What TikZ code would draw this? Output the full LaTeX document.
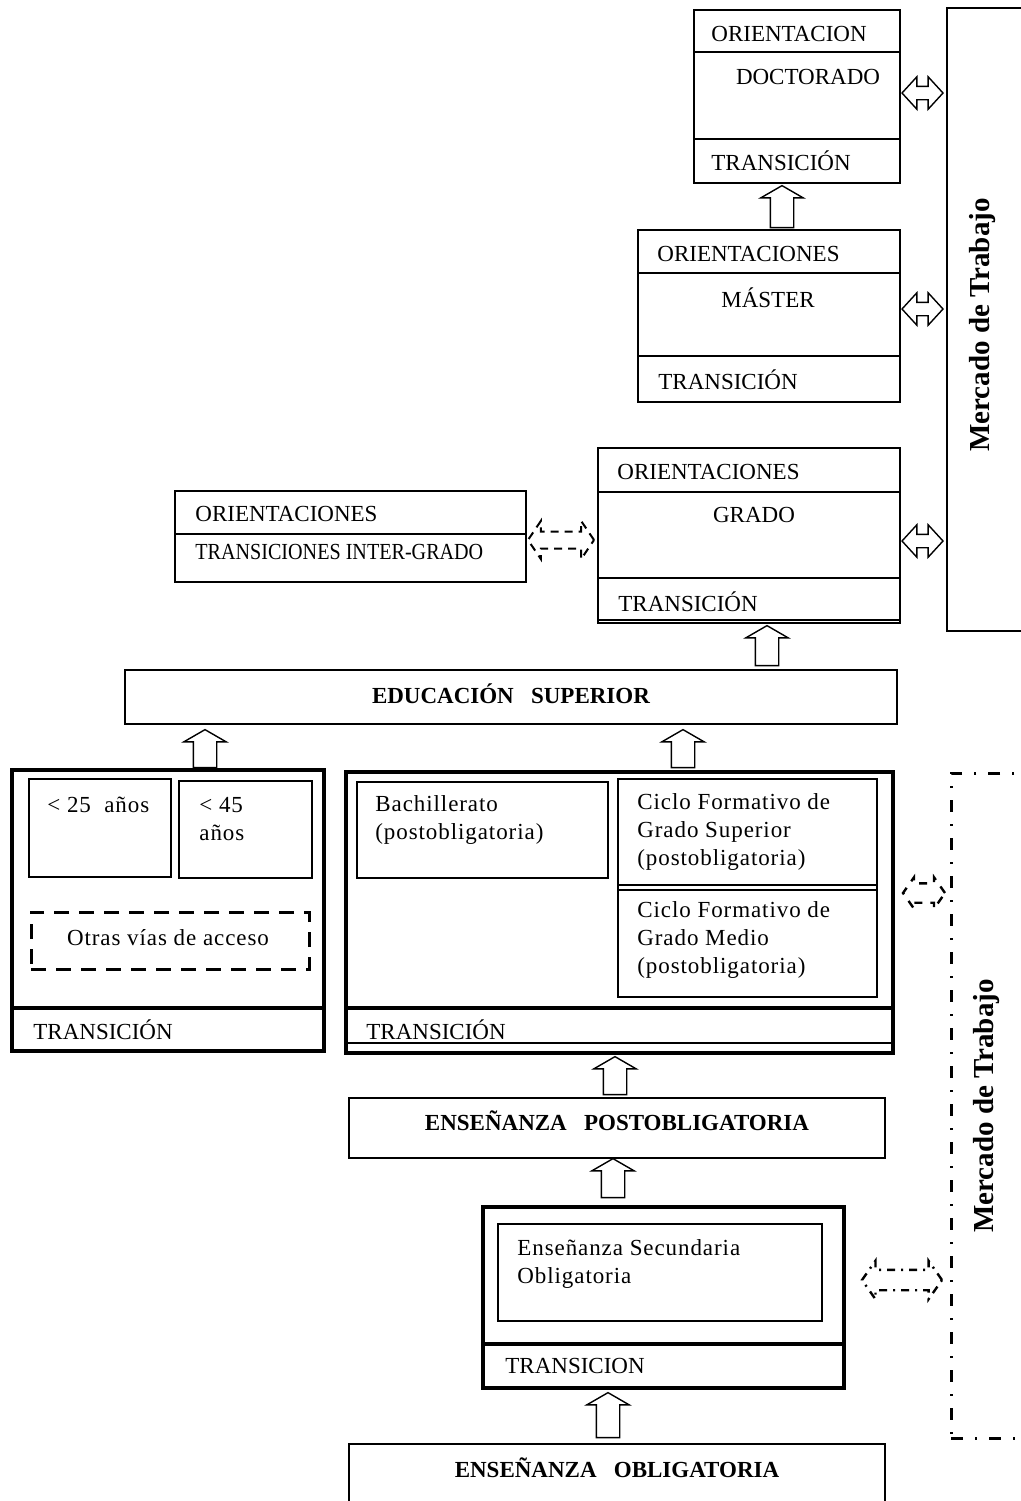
\documentclass[tikz,border=0pt]{standalone}
\usepackage{fontspec}
\usepackage{graphicx}
\setmainfont{Liberation Serif}
\usetikzlibrary{shapes.arrows,fit}
\newcommand\myfs{\fontsize{11.5pt}{14pt}\selectfont}
\newcommand\mylc{\addfontfeatures{LetterSpace=4}}
\tikzset{
  box/.style={draw, line width=0.75pt, inner sep=0pt},
  thickbox/.style={draw, line width=1.6pt, inner sep=0pt},
  dashbox/.style={draw, line width=1.5pt, inner sep=0pt, dash pattern=on 7.5pt off 5pt},
  dotbox/.style={draw, line width=1.5pt, inner sep=0pt, dash pattern=on 6pt off 6pt on 1pt off 6pt},
  txt/.style={font=\myfs, anchor=west, inner sep=0pt, align=left},
  ltxt/.style={font=\myfs\mylc, anchor=west, inner sep=0pt, align=left},
  ctxt/.style={font=\myfs, anchor=center, inner sep=0pt},
  btxt/.style={font=\myfs\bfseries, anchor=center, inner sep=0pt},
  mtxt/.style={font=\fontsize{14.5pt}{16pt}\selectfont\bfseries, rotate=90, inner sep=0pt},
  uparr/.style={draw, line width=0.7pt, single arrow, shape border rotate=90, inner xsep=5.5pt, inner ysep=0pt,
    single arrow head extend=4.75pt, single arrow tip angle=120, minimum height=#1},
  dblarr/.style={draw, line width=0.7pt, double arrow, inner xsep=0pt, inner ysep=3pt,
    double arrow head extend=4.75pt, double arrow tip angle=95, minimum height=20.5pt},
}
\begin{document}
\begin{tikzpicture}[x=0.5pt,y=-0.5pt]
\useasboundingbox (0,0) rectangle (1021,1501);
% Mercado de Trabajo (top)
\node[box, fit={(947,8)(1080,631)}] (mt1) {};
\node[mtxt] (mt1t) at (983,325) {Mercado de Trabajo};
% Doctorado
\node[box, fit={(694,10)(900,183)}] (doc) {};
\draw[line width=0.9pt] (694,52) -- (900,52);
\draw[line width=0.75pt] (694,139) -- (900,139);
\node[txt] (doc1) at (711,34) {ORIENTACION};
\node[ctxt] (doc2) at (808,77) {DOCTORADO};
\node[txt] (doc3) at (711,161) {TRANSICIÓN};
% Master
\node[box, fit={(638,230)(900,402)}] (mas) {};
\draw[line width=1pt] (638,273) -- (900,273);
\draw[line width=0.75pt] (638,356) -- (900,356);
\node[txt] (mas1) at (657,254) {ORIENTACIONES};
\node[ctxt] (mas2) at (768,298) {MÁSTER};
\node[txt] (mas3) at (658,380) {TRANSICIÓN};
% Grado
\node[box, fit={(598,448)(900,623)}] (gra) {};
\draw[line width=1.1pt] (598,492) -- (900,492);
\draw[line width=0.75pt] (598,578) -- (900,578);
\draw[line width=0.75pt] (598,620) -- (900,620);
\node[txt] (gra1) at (617,472) {ORIENTACIONES};
\node[ctxt] (gra2) at (754,515) {GRADO};
\node[txt] (gra3) at (618,602) {TRANSICIÓN};
% Inter-grado
\node[box, fit={(175,491)(526,582)}] (int) {};
\draw[line width=1.3pt] (175,534) -- (526,534);
\node[txt] (int1) at (195,514) {ORIENTACIONES};
\node[txt] (int2) at (195,552) {\scalebox{0.875}[1]{TRANSICIONES INTER-GRADO}};
% Educacion superior
\node[box, fit={(125,670)(897,724)}] (eds) {};
\node[btxt] (eds1) at (511,694) {EDUCACIÓN \ \ SUPERIOR};
% Left access box
\node[thickbox, fit={(12,770)(324,1051)}] (acc) {};
\draw[line width=1.6pt] (12,1008) -- (324,1008);
\node[box, fit={(29,779)(171,877)}] (a25) {};
\node[box, fit={(179,781)(312,878)}] (a45) {};
\node[dashbox, fit={(31,912)(309,969)}] (otr) {};
\node[ltxt] (a25t) at (47,805) {< 25 \ años};
\node[ltxt] (a45t) at (199,819) {< 45\\ años};
\node[ctxt, font=\myfs\mylc] (otrt) at (168,938) {Otras vías de acceso};
\node[txt] (acct) at (33,1030) {TRANSICIÓN};
% Middle box
\node[thickbox, fit={(346,772)(893,1053)}] (mid) {};
\draw[line width=1.6pt] (346,1008) -- (893,1008);
\draw[line width=1.4pt] (346,1043) -- (893,1043);
\node[box, fit={(357,782)(608,878)}] (bach) {};
\node[box, fit={(618,779)(877,997)}] (cic) {};
\draw[line width=0.75pt] (618,885) -- (877,885);
\draw[line width=0.75pt] (618,890) -- (877,890);
\node[ltxt] (bacht) at (375,820) {Bachillerato\\(postobligatoria)};
\node[ltxt] (cic1) at (637,832) {Ciclo Formativo de\\Grado Superior\\(postobligatoria)};
\node[ltxt] (cic2) at (637,940) {Ciclo Formativo de\\Grado Medio\\(postobligatoria)};
\node[txt] (midt) at (366,1030) {TRANSICIÓN};
% Postobligatoria
\node[box, fit={(349,1098)(885,1158)}] (pos) {};
\node[btxt] (post) at (617,1121) {ENSEÑANZA \ \ POSTOBLIGATORIA};
% ESO
\node[thickbox, fit={(483,1207)(844,1388)}] (eso) {};
\draw[line width=1.6pt] (483,1344) -- (844,1344);
\node[box, fit={(498,1224)(822,1321)}] (esoi) {};
\node[ltxt] (esot) at (517,1264) {Enseñanza Secundaria\\Obligatoria};
\node[txt] (esot2) at (505,1366) {TRANSICION};
% Obligatoria
\node[box, fit={(349,1444)(885,1540)}] (obl) {};
\node[btxt] (oblt) at (617,1468) {ENSEÑANZA \ \ OBLIGATORIA};
% Mercado de Trabajo (bottom)
\node[dotbox, fit={(951,773)(1080,1438)}] (mt2) {};
\node[mtxt] (mt2t) at (987,1106) {Mercado de Trabajo};
% up arrows
\node[uparr=21pt] (u1) at (782,210) {};
\node[uparr=20pt] (u2) at (767,649) {};
\node[uparr=19pt] (u3) at (205,752) {};
\node[uparr=19pt] (u4) at (683,752) {};
\node[uparr=19pt] (u5) at (615,1079) {};
\node[uparr=19.5pt] (u6) at (613,1181.5) {};
\node[uparr=22.5pt] (u7) at (608,1418.5) {};
% double arrows
\node[dblarr] (d1) at (922.5,93) {};
\node[dblarr] (d2) at (922.5,309) {};
\node[dblarr] (d3) at (922.5,541) {};
\node[draw, line width=1pt, double arrow, inner xsep=0pt, inner ysep=3.75pt, double arrow head extend=5.25pt,
  double arrow tip angle=112, minimum height=33pt, dash pattern=on 4pt off 3pt] (d4) at (561,540) {};
\node[draw, line width=1.2pt, double arrow, inner xsep=0pt, inner ysep=4.25pt, double arrow head extend=3pt,
  double arrow tip angle=110, minimum height=21pt, dash pattern=on 4pt off 4pt] (d5) at (924,893) {};
\node[draw, line width=1.2pt, double arrow, inner xsep=0pt, inner ysep=4.5pt, double arrow head extend=4.5pt,
  double arrow tip angle=110, minimum height=40pt, dash pattern=on 4pt off 3pt on 1pt off 3pt] (d6) at (902,1280) {};
\end{tikzpicture}
\end{document}
